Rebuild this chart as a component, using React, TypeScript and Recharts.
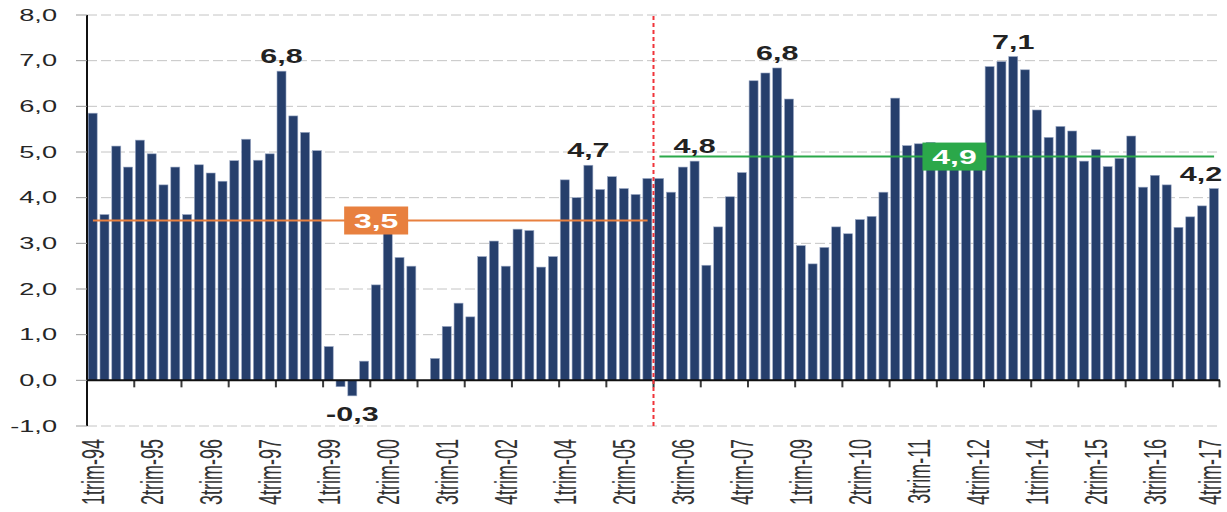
import React from 'react'
import {
  BarChart,
  Bar,
  XAxis,
  YAxis,
  CartesianGrid,
  ReferenceLine,
  ReferenceDot,
  LabelList,
} from 'recharts'

const CHART_W = 1227
const CHART_H = 512
const SX = 1.7 // the source picture is stretched sideways

const YEARS = [
  '94', '95', '96', '97', '98', '99', '00', '01', '02', '03', '04', '05',
  '06', '07', '08', '09', '10', '11', '12', '13', '14', '15', '16', '17',
]
const QUARTERS = YEARS.flatMap((y) => [1, 2, 3, 4].map((q) => `${q}trim-${y}`))

// annual growth by quarter, 1994-2005
const growth94to05 = [
  5.85, 3.63, 5.13, 4.67, 5.26, 4.96, 4.28, 4.67, 3.63, 4.72, 4.54, 4.36,
  4.81, 5.28, 4.82, 4.96, 6.77, 5.79, 5.43, 5.03, 0.74, -0.14, -0.34, 0.42,
  2.09, 3.3, 2.69, 2.5, 0, 0.48, 1.18, 1.69, 1.39, 2.71, 3.05, 2.5,
  3.31, 3.28, 2.48, 2.71, 4.39, 4.0, 4.71, 4.18, 4.46, 4.2, 4.07, 4.42,
]
// 2006-2017
const growth06to17 = [
  4.42, 4.12, 4.67, 4.8, 2.52, 3.36, 4.02, 4.55, 6.56, 6.73, 6.84, 6.16,
  2.95, 2.55, 2.91, 3.36, 3.21, 3.52, 3.59, 4.12, 6.18, 5.14, 5.18, 5.21,
  5.0, 4.85, 5.0, 5.13, 6.87, 6.98, 7.09, 6.8, 5.92, 5.32, 5.56, 5.46,
  4.8, 5.05, 4.68, 4.86, 5.35, 4.23, 4.49, 4.28, 3.35, 3.58, 3.82, 4.2,
]

const AVG_94_05 = 3.5
const AVG_06_17 = 4.9

const PEAKS = ['1trim-98', '3trim-99', '3trim-04', '4trim-06', '3trim-08', '3trim-13', '4trim-17']
const Y_TICKS = [-1, 0, 1, 2, 3, 4, 5, 6, 7, 8]

const growth = [...growth94to05, ...growth06to17]
const data = QUARTERS.map((q, i) => ({
  q,
  v: growth[i],
  peak: PEAKS.includes(q) ? growth[i] : null,
}))

const fmt = (v: number) => v.toFixed(1).replace('.', ',')

const YTick = (props: any) => {
  const { x, y, payload } = props
  return (
    <text
      transform={`translate(${x},${y}) scale(${SX},1)`}
      textAnchor="end"
      dy="0.36em"
      fontFamily="Liberation Sans, Arial, sans-serif"
      fontSize={16}
      fill="#262626"
    >
      {fmt(payload.value)}
    </text>
  )
}

const XTick = (props: any) => {
  const { x, y, payload } = props
  const cx = Math.min(x, CHART_W - 17)
  return (
    <text
      transform={`translate(${cx},${y + 5}) scale(${SX},1) rotate(-90)`}
      textAnchor="end"
      dy="0.36em"
      fontFamily="Liberation Sans, Arial, sans-serif"
      fontSize={18}
      fill="#333"
    >
      {payload.value}
    </text>
  )
}

// bar + the small year tick under the zero line
const BarShape = (props: any) => {
  const { x, y, width, height, index } = props
  const top = Math.min(y, y + height)
  const h = Math.abs(height)
  const halfGap = width * 0.125
  const zeroY = height >= 0 ? y + height : y
  const last = QUARTERS.length - 1
  const tickX = index > 0 && index % 4 === 0 ? x - halfGap : index === last ? x + width + halfGap : null
  return (
    <g>
      {h > 0 && (
        <rect x={x} y={top} width={width} height={h} fill="#263F6C" stroke="#9aa8c4" strokeWidth={0.6} />
      )}
      {tickX != null && (
        <line x1={tickX} x2={tickX} y1={zeroY} y2={zeroY + 7} stroke="#3a3a3a" strokeWidth={2} />
      )}
    </g>
  )
}

const PeakLabel = (props: any) => {
  const { x, y, width, height, value } = props
  if (value == null) return null
  const top = Math.min(y, y + height)
  const bottom = Math.max(y, y + height)
  const cx = Math.min(x + width / 2, CHART_W - 26)
  const ty = value < 0 ? bottom + 25 : top - 8
  return (
    <text
      transform={`translate(${cx},${ty}) scale(1.45,1)`}
      textAnchor="middle"
      fontFamily="Liberation Sans, Arial, sans-serif"
      fontWeight="bold"
      fontSize={21}
      fill="#222"
    >
      {fmt(value)}
    </text>
  )
}

const boxShape = (color: string, text: string) => (props: any) => {
  const { cx, cy } = props
  return (
    <g>
      <rect x={cx - 32} y={cy - 14} width={64} height={28} fill={color} />
      <text
        transform={`translate(${cx},${cy}) scale(1.6,1)`}
        textAnchor="middle"
        dy="0.36em"
        fontFamily="Liberation Sans, Arial, sans-serif"
        fontWeight="bold"
        fontSize={20}
        fill="#fff"
      >
        {text}
      </text>
    </g>
  )
}

export default function App() {
  return (
    <div style={{ position: 'absolute', left: 0, top: 0, background: '#fff' }}>
      <BarChart
        width={CHART_W}
        height={CHART_H}
        data={data}
        margin={{ top: 15, right: 7, bottom: 0, left: 0 }}
        barCategoryGap="10%"
      >
        <CartesianGrid vertical={false} stroke="#c4c4c4" strokeDasharray="10 4" />
        <XAxis
          dataKey="q"
          interval={4}
          height={86}
          axisLine={false}
          tickLine={false}
          tick={<XTick />}
        />
        <YAxis
          width={87}
          domain={[-1, 8]}
          ticks={Y_TICKS}
          interval={0}
          axisLine={{ stroke: '#111', strokeWidth: 2 }}
          tickLine={{ stroke: '#999' }}
          tickSize={11}
          tickMargin={19}
          tick={<YTick />}
        />
        <Bar dataKey="v" shape={<BarShape />} isAnimationActive={false}>
          <LabelList dataKey="peak" content={<PeakLabel />} />
        </Bar>
        <ReferenceLine y={0} stroke="#111" strokeWidth={2} />
        <ReferenceLine
          segment={[{ x: '1trim-94', y: AVG_94_05 }, { x: '4trim-05', y: AVG_94_05 }]}
          stroke="#E8803F"
          strokeWidth={2}
        />
        <ReferenceLine
          segment={[{ x: '1trim-06', y: AVG_06_17 }, { x: '4trim-17', y: AVG_06_17 }]}
          stroke="#2BA84A"
          strokeWidth={2}
        />
        <ReferenceLine
          x="1trim-06"
          position="start"
          stroke="#F0343A"
          strokeWidth={2}
          strokeDasharray="4 3"
        />
        <ReferenceDot x="1trim-00" y={AVG_94_05} shape={boxShape('#E8803F', fmt(AVG_94_05))} />
        <ReferenceDot x="2trim-12" y={AVG_06_17} shape={boxShape('#2BA84A', fmt(AVG_06_17))} />
      </BarChart>
    </div>
  )
}
